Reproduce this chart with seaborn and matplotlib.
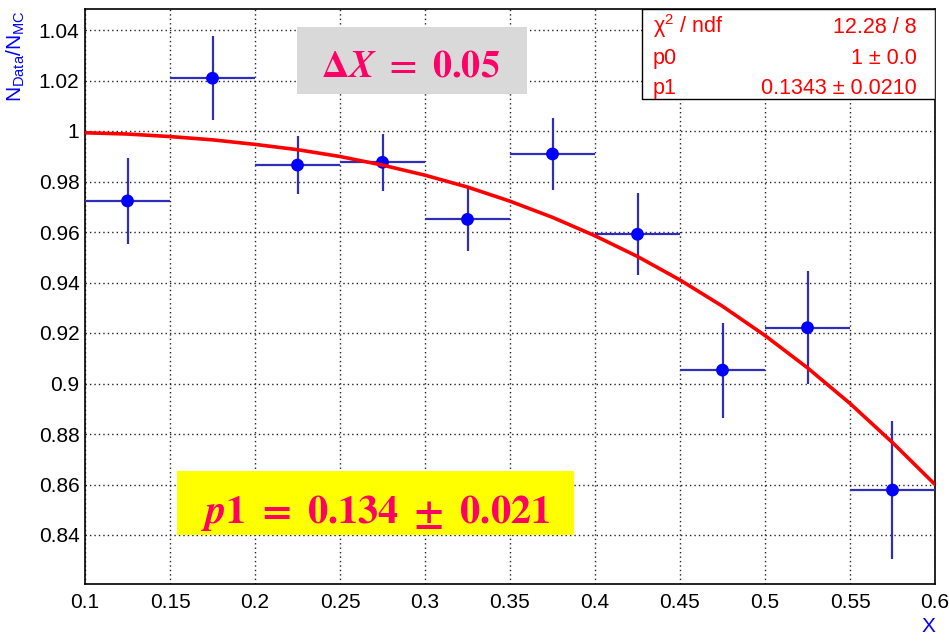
#!/usr/bin/env python3

import matplotlib
matplotlib.use("Agg")
import matplotlib.pyplot as plt
from matplotlib.patches import Rectangle
from matplotlib.ticker import MultipleLocator, FuncFormatter
import seaborn as sns


# bin centres, data/MC ratio and its errors
bin_centers = [0.125, 0.175, 0.225, 0.275, 0.325, 0.375, 0.425, 0.475, 0.525, 0.575]
bin_half_width = [0.025] * 10
ratio = [0.9723, 1.0209, 0.9865, 0.9876, 0.9650, 0.9909, 0.9591, 0.9053, 0.9221, 0.8578]
ratio_err = [0.0170, 0.0166, 0.0116, 0.0114, 0.0125, 0.0143, 0.0163, 0.0188, 0.0224, 0.0272]

# fitted curve
fit_x = [0.1, 0.125, 0.15, 0.175, 0.2, 0.225, 0.25, 0.275, 0.3, 0.325, 0.35,
         0.375, 0.4, 0.425, 0.45, 0.475, 0.5, 0.525, 0.55, 0.575, 0.6]
fit_y = [0.9993, 0.9988, 0.9978, 0.9965, 0.9947, 0.9926, 0.9899, 0.9865, 0.9825, 0.9778, 0.9722,
         0.9658, 0.9585, 0.9503, 0.9410, 0.9306, 0.9190, 0.9062, 0.8921, 0.8766, 0.8600]

stats_names = [r"χ$^{2}$ / ndf", "p0", "p1"]
stats_values = ["12.28 / 8", "1 ± 0.0", "0.1343 ± 0.0210"]

delta_text = r"$\boldsymbol{\Delta X}\ \mathbf{=\ 0.05}$"
p1_text = r"$\boldsymbol{p}\mathbf{1\ =\ 0.134\ \pm\ 0.021}$"

sns.set_style("white")
plt.rcParams["font.family"] = ["Liberation Sans", "DejaVu Sans"]
plt.rcParams["mathtext.fontset"] = "custom"
plt.rcParams["mathtext.rm"] = "Liberation Sans"
plt.rcParams["mathtext.it"] = "Liberation Sans:italic"
plt.rcParams["mathtext.bf"] = "Liberation Sans:bold"

W, H = 949, 641
L, R, T, B = 85, 935, 9, 584

fig, ax = plt.subplots(figsize=(W / 100, H / 100), dpi=100)
fig.subplots_adjust(left=L / W, right=R / W, bottom=1 - B / H, top=1 - T / H)


def ax_xy(px, py):
    return (px - L) / (R - L), (B - py) / (B - T)


ax.errorbar(bin_centers, ratio, xerr=bin_half_width, yerr=ratio_err, fmt="none",
            ecolor="#2e2eb8", elinewidth=1.6, capsize=0, zorder=3)
sns.scatterplot(x=bin_centers, y=ratio, color="#0000ff", s=85, edgecolor="none", zorder=4, ax=ax)
sns.lineplot(x=fit_x, y=fit_y, color="#ff0000", linewidth=2.6, zorder=5, ax=ax)

ax.set_xlim(0.1, 0.6)
ax.set_ylim(1 - (B - 131) / 2525, 1 + (131 - T) / 2525)

fmt = FuncFormatter(lambda v, p: f"{v:.3f}".rstrip("0").rstrip("."))
ax.xaxis.set_major_locator(MultipleLocator(0.05))
ax.xaxis.set_minor_locator(MultipleLocator(0.01))
ax.yaxis.set_major_locator(MultipleLocator(0.02))
ax.yaxis.set_minor_locator(MultipleLocator(0.005))
ax.xaxis.set_major_formatter(fmt)
ax.yaxis.set_major_formatter(fmt)

ax.tick_params(axis="both", which="both", direction="in", width=1.1, color="black",
               labelsize=15, labelcolor="black")
ax.tick_params(axis="x", which="major", length=12.2, pad=6.5)
ax.tick_params(axis="x", which="minor", length=5.8)
ax.tick_params(axis="y", which="major", length=18, pad=4)
ax.tick_params(axis="y", which="minor", length=10)
for spine in ax.spines.values():
    spine.set_color("black")
    spine.set_linewidth(1.2)

ax.grid(True, which="major", color="#222222", linestyle=(0, (1, 2.2)), linewidth=1.0)
ax.set_axisbelow(True)

# axis titles, ROOT style
fig.text(5 / W, 1 - 10 / H, r"N$_{\rm Data}$/N$_{\rm MC}$", rotation=90, ha="left", va="top",
         color="#0000ff", fontsize=15)
fig.text(R / W, 1 - 617 / H, "X", ha="right", va="top", color="#0000ff", fontsize=15)

# stats box
x0, y0 = ax_xy(642, 99)
x1, y1 = ax_xy(935, 9)
ax.add_patch(Rectangle((x0, y0), x1 - x0, y1 - y0, transform=ax.transAxes,
                       facecolor="white", edgecolor="black", linewidth=1.0, zorder=6))
for name, value, base in zip(stats_names, stats_values, [33, 64, 94]):
    _, yy = ax_xy(0, base)
    ax.text(ax_xy(653, 0)[0], yy, name, transform=ax.transAxes, ha="left", va="baseline",
            color="#ff0000", fontsize=15.5, zorder=7)
    ax.text(ax_xy(917, 0)[0], yy, value, transform=ax.transAxes, ha="right", va="baseline",
            color="#ff0000", fontsize=15.5, zorder=7)

# delta X box
x0, y0 = ax_xy(297, 94)
x1, y1 = ax_xy(527, 27)
ax.add_patch(Rectangle((x0, y0), x1 - x0, y1 - y0, transform=ax.transAxes,
                       facecolor="#d9d9d9", edgecolor="none", zorder=6))
ax.text(*ax_xy(411, 76.5), delta_text, transform=ax.transAxes, ha="center", va="baseline",
        color="#ff0066", fontsize=27.5, math_fontfamily="stix", zorder=7)

# p1 result box
x0, y0 = ax_xy(177, 535)
x1, y1 = ax_xy(574, 471)
ax.add_patch(Rectangle((x0, y0), x1 - x0, y1 - y0, transform=ax.transAxes,
                       facecolor="#ffff00", edgecolor="none", zorder=6))
ax.text(*ax_xy(375, 523), p1_text, transform=ax.transAxes, ha="center", va="baseline",
        color="#ff0066", fontsize=29, math_fontfamily="stix", zorder=7)

ax.set_xlabel("")
ax.set_ylabel("")

plt.savefig("out.png", dpi=100)
plt.close()
